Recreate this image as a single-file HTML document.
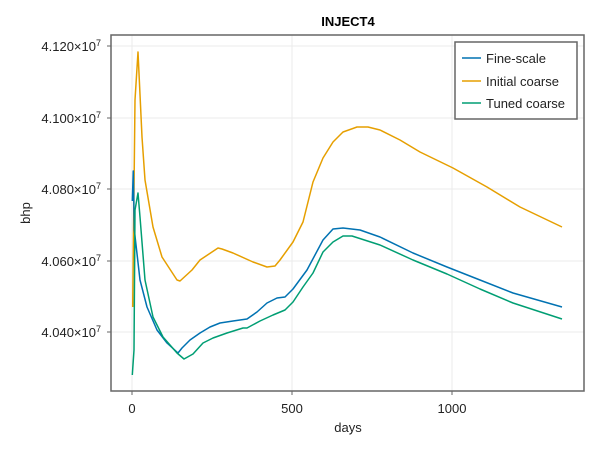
<!DOCTYPE html>
<html><head><style>body{margin:0;background:#fff}svg{display:block}</style></head><body>
<svg width="600" height="450" xmlns="http://www.w3.org/2000/svg" font-family="Liberation Sans, sans-serif">
<rect width="600" height="450" fill="#fff"/>
<g stroke="#ebebeb" stroke-width="1">
<line x1="132" y1="35" x2="132" y2="391"/><line x1="292" y1="35" x2="292" y2="391"/><line x1="452" y1="35" x2="452" y2="391"/>
<line x1="111" y1="46" x2="584" y2="46"/><line x1="111" y1="118" x2="584" y2="118"/><line x1="111" y1="189" x2="584" y2="189"/><line x1="111" y1="261" x2="584" y2="261"/><line x1="111" y1="332" x2="584" y2="332"/>
</g>
<g fill="none" stroke-width="1.5" stroke-linejoin="round">
<polyline stroke="#e69f00" points="132.7,307 135,100 138,52 142,137 145,180 153,227 162,257 177,280 180,281 192,270 200,260 218,248 222,249 233,253 253,262 267,267 275,266 280,260 293,242 303,222 313,182 323,158 333,142 343,132 357,127 368,127 380,130 400,140 420,152 453,168 487,187 520,207 562,227"/>
<polyline stroke="#0072b2" points="132.3,201 133.3,171 134.3,230 140,280 147,307 157,330 167,343 178,353 182,348 190,340 200,333 210,327 220,323 233,321 247,319 257,312 267,303 277,298 285,297 293,289 307,270 323,240 333,229 343,228 360,230 380,237 413,253 447,267 480,280 513,293 562,307"/>
<polyline stroke="#009e73" points="132.3,375 134,350 135,210 138,193 140,217 145,280 153,317 163,337 177,353 184,359 193,354 203,343 213,338 227,333 243,328 247,328 260,321 273,315 285,310 293,302 303,287 313,273 323,252 333,242 343,236 352,236 380,245 413,260 447,274 480,289 513,303 562,319"/>
</g>
<rect x="111" y="35" width="473" height="356" fill="none" stroke="#666" stroke-width="1.5"/>
<g stroke="#666" stroke-width="1"><line x1="132" y1="391" x2="132" y2="395"/><line x1="292" y1="391" x2="292" y2="395"/><line x1="452" y1="391" x2="452" y2="395"/>
<line x1="107" y1="46" x2="111" y2="46"/><line x1="107" y1="118" x2="111" y2="118"/><line x1="107" y1="189" x2="111" y2="189"/><line x1="107" y1="261" x2="111" y2="261"/><line x1="107" y1="332" x2="111" y2="332"/></g>
<g font-size="13" fill="#222" text-anchor="middle"><text x="132" y="413">0</text><text x="292" y="413">500</text><text x="452" y="413">1000</text>
<text x="348" y="432" font-size="13">days</text></g>
<g font-size="13" fill="#222" text-anchor="end">
<text x="101" y="51">4.120×10<tspan dy="-5" font-size="9">7</tspan></text>
<text x="101" y="123">4.100×10<tspan dy="-5" font-size="9">7</tspan></text>
<text x="101" y="194">4.080×10<tspan dy="-5" font-size="9">7</tspan></text>
<text x="101" y="266">4.060×10<tspan dy="-5" font-size="9">7</tspan></text>
<text x="101" y="337">4.040×10<tspan dy="-5" font-size="9">7</tspan></text>
</g>
<text x="30" y="213" font-size="13" fill="#222" text-anchor="middle" transform="rotate(-90 30 213)">bhp</text>
<text x="348" y="26" font-size="13" font-weight="bold" text-anchor="middle" fill="#000">INJECT4</text>
<rect x="455" y="42" width="122" height="77" fill="#fff" stroke="#666" stroke-width="1.5"/>
<g stroke-width="1.5"><line x1="462" y1="58" x2="481" y2="58" stroke="#0072b2"/><line x1="462" y1="81" x2="481" y2="81" stroke="#e69f00"/><line x1="462" y1="103" x2="481" y2="103" stroke="#009e73"/></g>
<g font-size="13" fill="#222"><text x="486" y="63">Fine-scale</text><text x="486" y="86">Initial coarse</text><text x="486" y="108">Tuned coarse</text></g>
</svg>
</body></html>
